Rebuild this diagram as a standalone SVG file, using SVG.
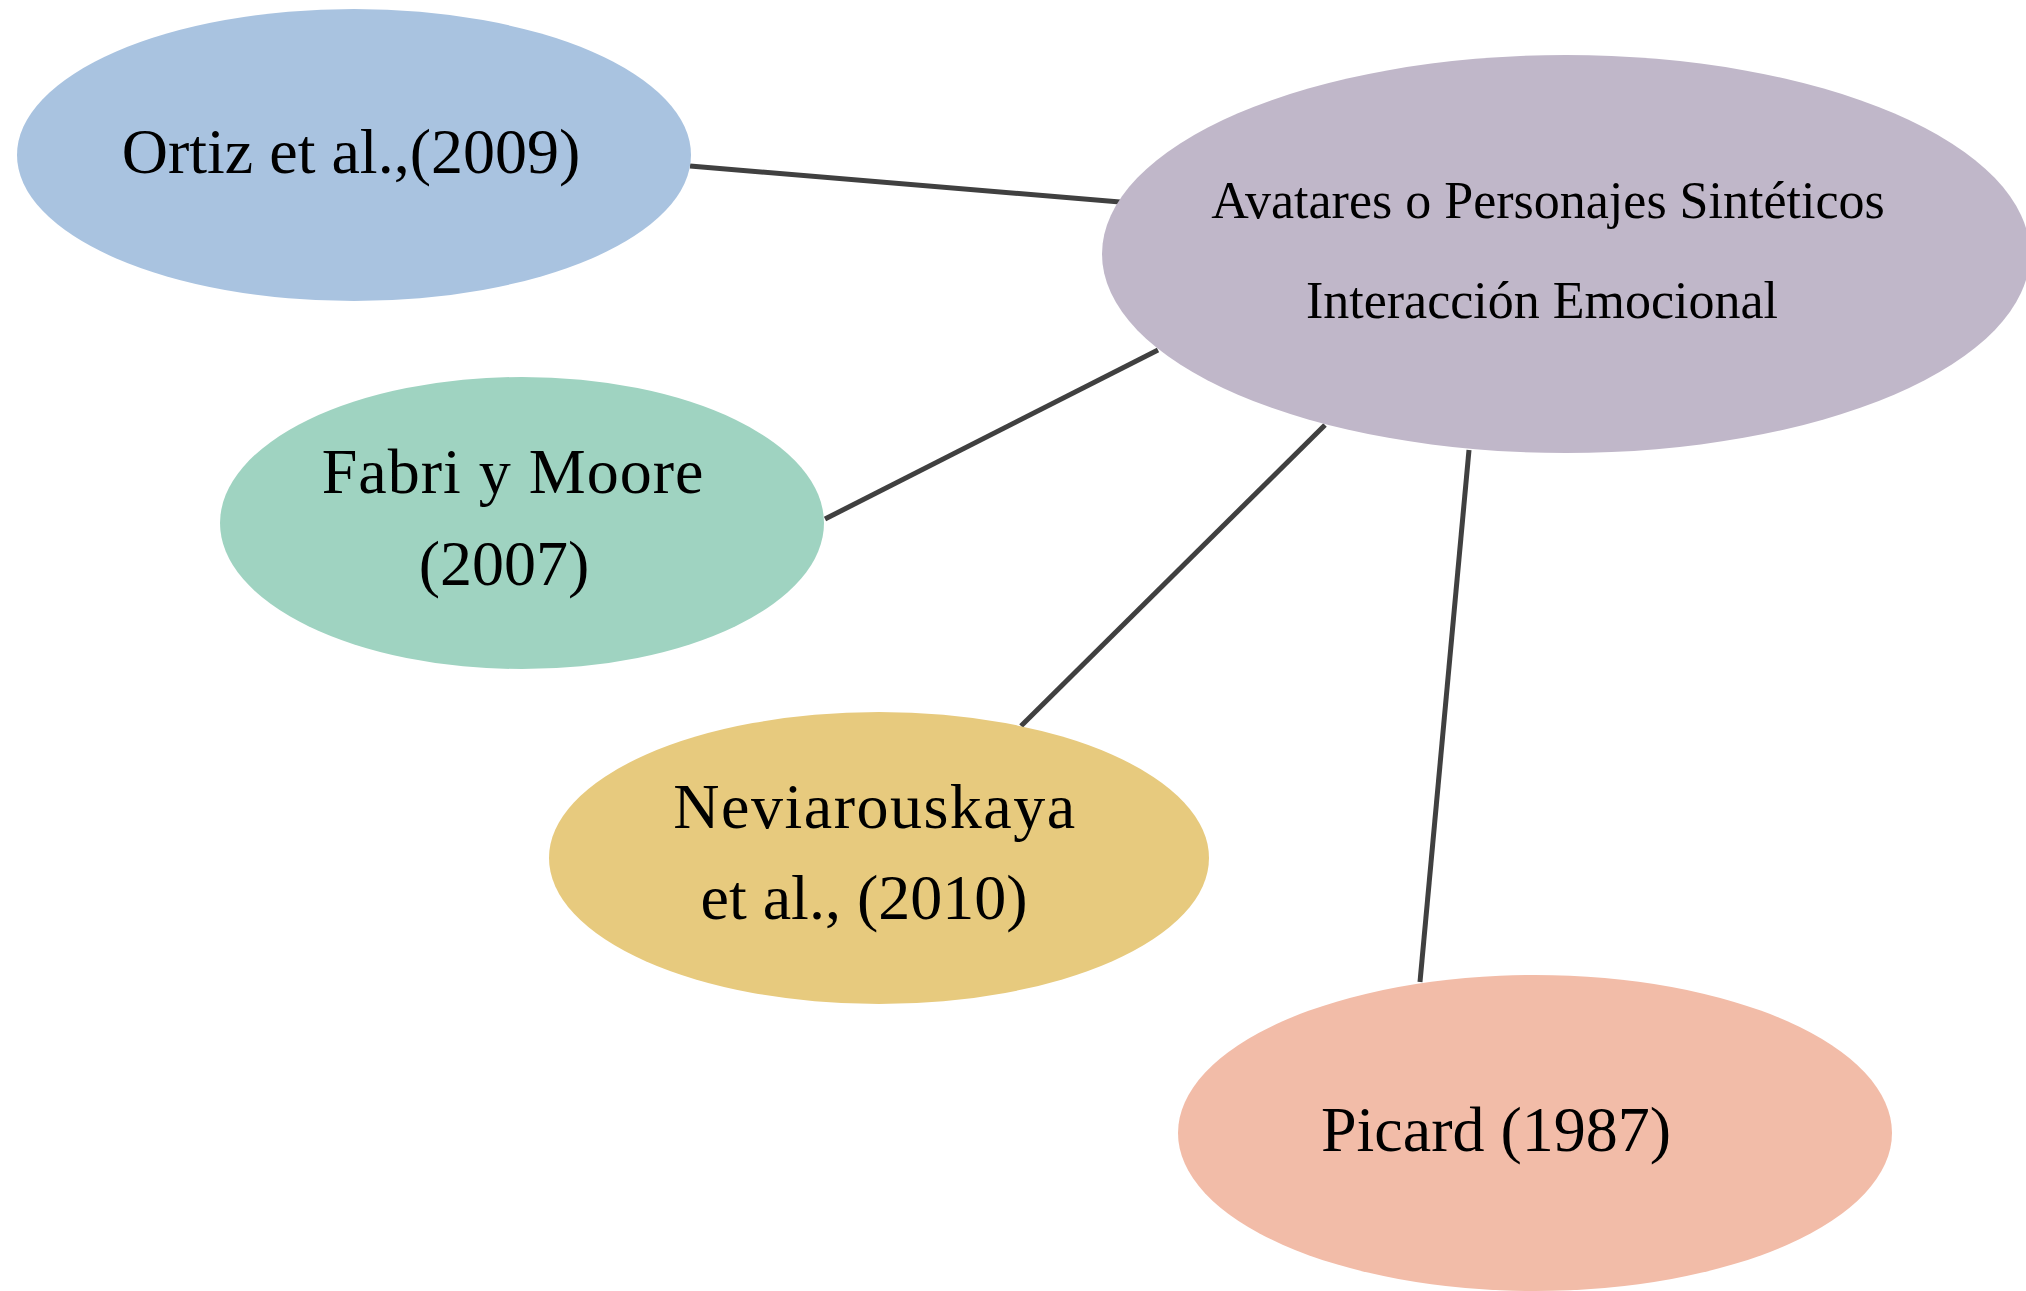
<svg xmlns="http://www.w3.org/2000/svg" width="2026" height="1291" viewBox="0 0 2026 1291">
  <style>
    .edge { stroke: #404040; stroke-width: 5; fill: none; stroke-linecap: butt; }
    .label { font-family: "Liberation Serif", "Times New Roman", serif; fill: #000000; text-anchor: middle; }
    .big { font-size: 64px; }
    .hub { font-size: 52px; }
  </style>
  <rect x="0" y="0" width="2026" height="1291" fill="#ffffff"/>

  <!-- connectors from the central topic to each reference -->
  <g id="connectors">
    <line class="edge" x1="690" y1="166" x2="1120" y2="202"/>
    <line class="edge" x1="825" y1="519" x2="1158" y2="350"/>
    <line class="edge" x1="1021" y1="726" x2="1325" y2="425"/>
    <line class="edge" x1="1420" y1="982" x2="1469" y2="450" stroke-width="4.5"/>
  </g>

  <g id="node-central">
    <ellipse cx="1566" cy="254" rx="464" ry="199" fill="#C0B7C9"/>
    <text class="label hub" x="1548" y="218">Avatares o Personajes Sintéticos</text>
    <text class="label hub" x="1542" y="318">Interacción Emocional</text>
  </g>

  <g id="node-ortiz">
    <ellipse cx="354" cy="155" rx="337" ry="146" fill="#A9C3E0"/>
    <text class="label big" x="351" y="173">Ortiz et al.,(2009)</text>
  </g>

  <g id="node-fabri">
    <ellipse cx="522" cy="523" rx="302" ry="146" fill="#9FD3C1"/>
    <text class="label big" x="513" y="493" letter-spacing="1">Fabri y Moore</text>
    <text class="label big" x="504" y="585">(2007)</text>
  </g>

  <g id="node-neviarouskaya">
    <ellipse cx="879" cy="858" rx="330" ry="146" fill="#E7CA7E"/>
    <text class="label big" x="875" y="828" letter-spacing="1.5">Neviarouskaya</text>
    <text class="label big" x="864" y="919">et al., (2010)</text>
  </g>

  <g id="node-picard">
    <ellipse cx="1535" cy="1133" rx="357" ry="158" fill="#F2BCA8"/>
    <text class="label big" x="1496" y="1151">Picard (1987)</text>
  </g>
</svg>
